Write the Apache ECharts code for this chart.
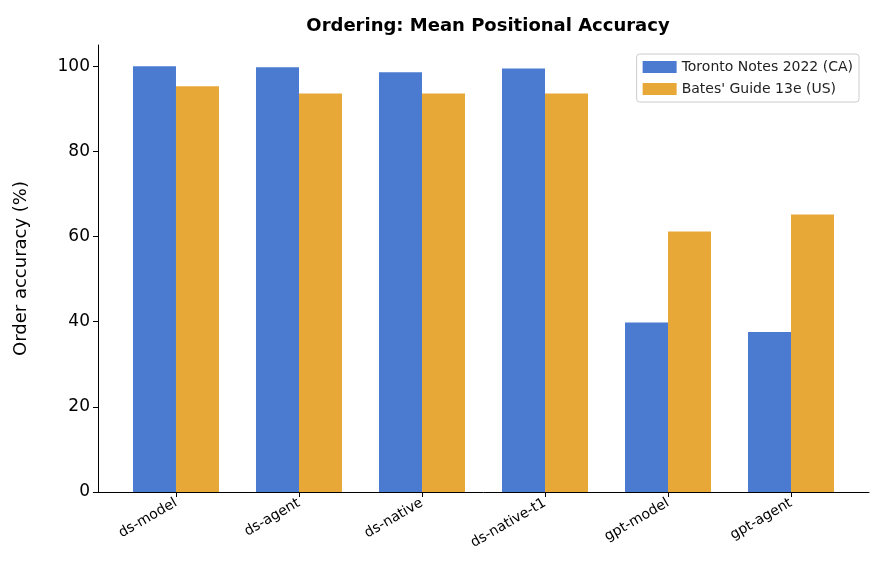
<!DOCTYPE html><html><head><meta charset="utf-8"><script src="https://cdn.jsdelivr.net/npm/echarts@6/dist/echarts.min.js"></script></head>
<body style="margin:0"><div id="c" style="width:883px;height:585px"></div><script>
const categories=['ds-model','ds-agent','ds-native','ds-native-t1','gpt-model','gpt-agent'];
const toronto=[100,99.8,98.6,99.5,39.8,37.6];
const bates=[95.3,93.6,93.6,93.6,61.2,65.2];
const yTicks=[0,20,40,60,80,100];
const idx=categories.map((_,i)=>i);
const ch=echarts.init(document.getElementById('c'));
const f='DejaVu Sans';
ch.setOption({animation:false,
title:{text:'Ordering: Mean Positional Accuracy',left:483,textAlign:'center',top:12,textStyle:{fontFamily:f,fontSize:18,fontWeight:'bold',color:'#000'}},
legend:{right:24,top:54,orient:'vertical',itemWidth:34,itemHeight:12,itemGap:8,borderColor:'#ccc',borderWidth:1,borderRadius:3,padding:[6,6,6,6],textStyle:{fontFamily:f,fontSize:14,color:'#222'},icon:'rect'},
grid:{left:98,right:14,top:45,bottom:93},
xAxis:{type:'value',min:-0.634,max:5.634,splitLine:{show:false},axisLine:{onZero:false,lineStyle:{color:'#000'}},
axisTick:{show:true,customValues:idx,length:5,lineStyle:{color:'#000'}},
axisLabel:{customValues:idx,rotate:30,fontFamily:f,fontSize:14,color:'#000',margin:10,formatter:v=>categories[Math.round(v)]}},
yAxis:{type:'value',min:0,max:105,interval:20,name:'Order accuracy (%)',nameLocation:'middle',nameGap:68,nameTextStyle:{fontFamily:f,fontSize:18,color:'#000'},
splitLine:{show:false},axisLine:{show:true,onZero:false,lineStyle:{color:'#000'}},axisTick:{show:true,length:5,lineStyle:{color:'#000'},customValues:yTicks},
axisLabel:{customValues:yTicks,fontFamily:f,fontSize:17,color:'#000'}},
series:[
{name:'Toronto Notes 2022 (CA)',type:'bar',barWidth:43,barGap:'0%',itemStyle:{color:'#4a7bd1'},data:toronto.map((v,i)=>[i,v])},
{name:"Bates' Guide 13e (US)",type:'bar',barWidth:43,barGap:'0%',itemStyle:{color:'#e8a838'},data:bates.map((v,i)=>[i,v])}
]});
</script></body></html>
